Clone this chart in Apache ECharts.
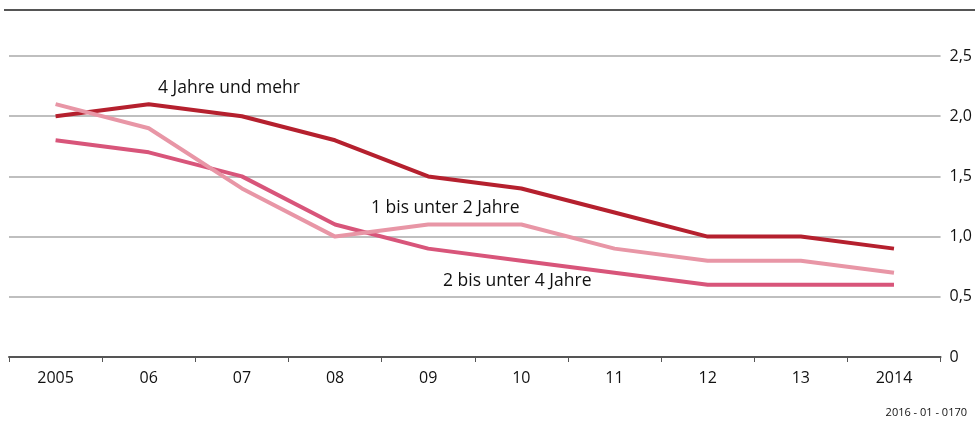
<!DOCTYPE html>
<html>
<head>
<meta charset="utf-8">
<script src="https://cdn.jsdelivr.net/npm/echarts@6/dist/echarts.min.js"></script>
<style>
  html, body { margin: 0; padding: 0; background: #fff; }
  #chart { width: 975px; height: 422px; }
</style>
</head>
<body>
<div id="chart"></div>
<script>
// Jahre (Kategorien)
const years = ['2005', '06', '07', '08', '09', '10', '11', '12', '13', '2014'];
// Reihen
const vierUndMehr = [2.0, 2.1, 2.0, 1.8, 1.5, 1.4, 1.2, 1.0, 1.0, 0.9];
const zweiBisVier = [1.8, 1.7, 1.5, 1.1, 0.9, 0.8, 0.7, 0.6, 0.6, 0.6];
const einsBisZwei = [2.1, 1.9, 1.4, 1.0, 1.1, 1.1, 0.9, 0.8, 0.8, 0.7];
const yTicks = [0, 0.5, 1.0, 1.5, 2.0, 2.5];

const font = '"Open Sans", "Noto Sans", sans-serif';
const chart = echarts.init(document.getElementById('chart'));

const lineSeries = (name, data, color) => ({
  name: name,
  type: 'line',
  data: data,
  symbol: 'none',
  lineStyle: { color: color, width: 4 },
  itemStyle: { color: color },
  animation: false
});

chart.setOption({
  backgroundColor: '#fff',
  grid: { left: 9, right: 33, top: 56, bottom: 65 },
  xAxis: {
    type: 'category',
    data: years,
    boundaryGap: true,
    axisLine: { lineStyle: { color: '#555', width: 2 } },
    axisTick: { show: true, length: 5, lineStyle: { color: '#555', width: 1 } },
    axisLabel: { color: '#111', fontSize: 16, fontFamily: font, margin: 13 },
    splitLine: { show: false }
  },
  yAxis: {
    type: 'value',
    position: 'right',
    min: 0,
    max: 2.5,
    interval: 0.5,
    axisLine: { show: false },
    axisTick: { show: false },
    axisLabel: {
      color: '#111', fontSize: 16, fontFamily: font, margin: 9,
      formatter: v => yTicks.includes(v) ? (v === 0 ? '0' : v.toFixed(1).replace('.', ',')) : ''
    },
    splitLine: { lineStyle: { color: '#aaa', width: 1.5 } }
  },
  series: [
    lineSeries('4 Jahre und mehr', vierUndMehr, '#b5202e'),
    lineSeries('2 bis unter 4 Jahre', zweiBisVier, '#d8557a'),
    lineSeries('1 bis unter 2 Jahre', einsBisZwei, '#e896a6')
  ],
  graphic: [
    { type: 'line', shape: { x1: 4, y1: 10, x2: 975, y2: 10 }, style: { stroke: '#555', lineWidth: 2 } },
    { type: 'text', left: 158, top: 79, style: { text: '4 Jahre und mehr', fontSize: 17.5, fontFamily: font, fill: '#111' } },
    { type: 'text', left: 371, top: 199, style: { text: '1 bis unter 2 Jahre', fontSize: 17.5, fontFamily: font, fill: '#111' } },
    { type: 'text', left: 443, top: 272, style: { text: '2 bis unter 4 Jahre', fontSize: 17.5, fontFamily: font, fill: '#111' } },
    { type: 'text', right: 8, top: 407, style: { text: '2016 - 01 - 0170', fontSize: 11, fontFamily: font, fill: '#111' } }
  ]
});
</script>
</body>
</html>
